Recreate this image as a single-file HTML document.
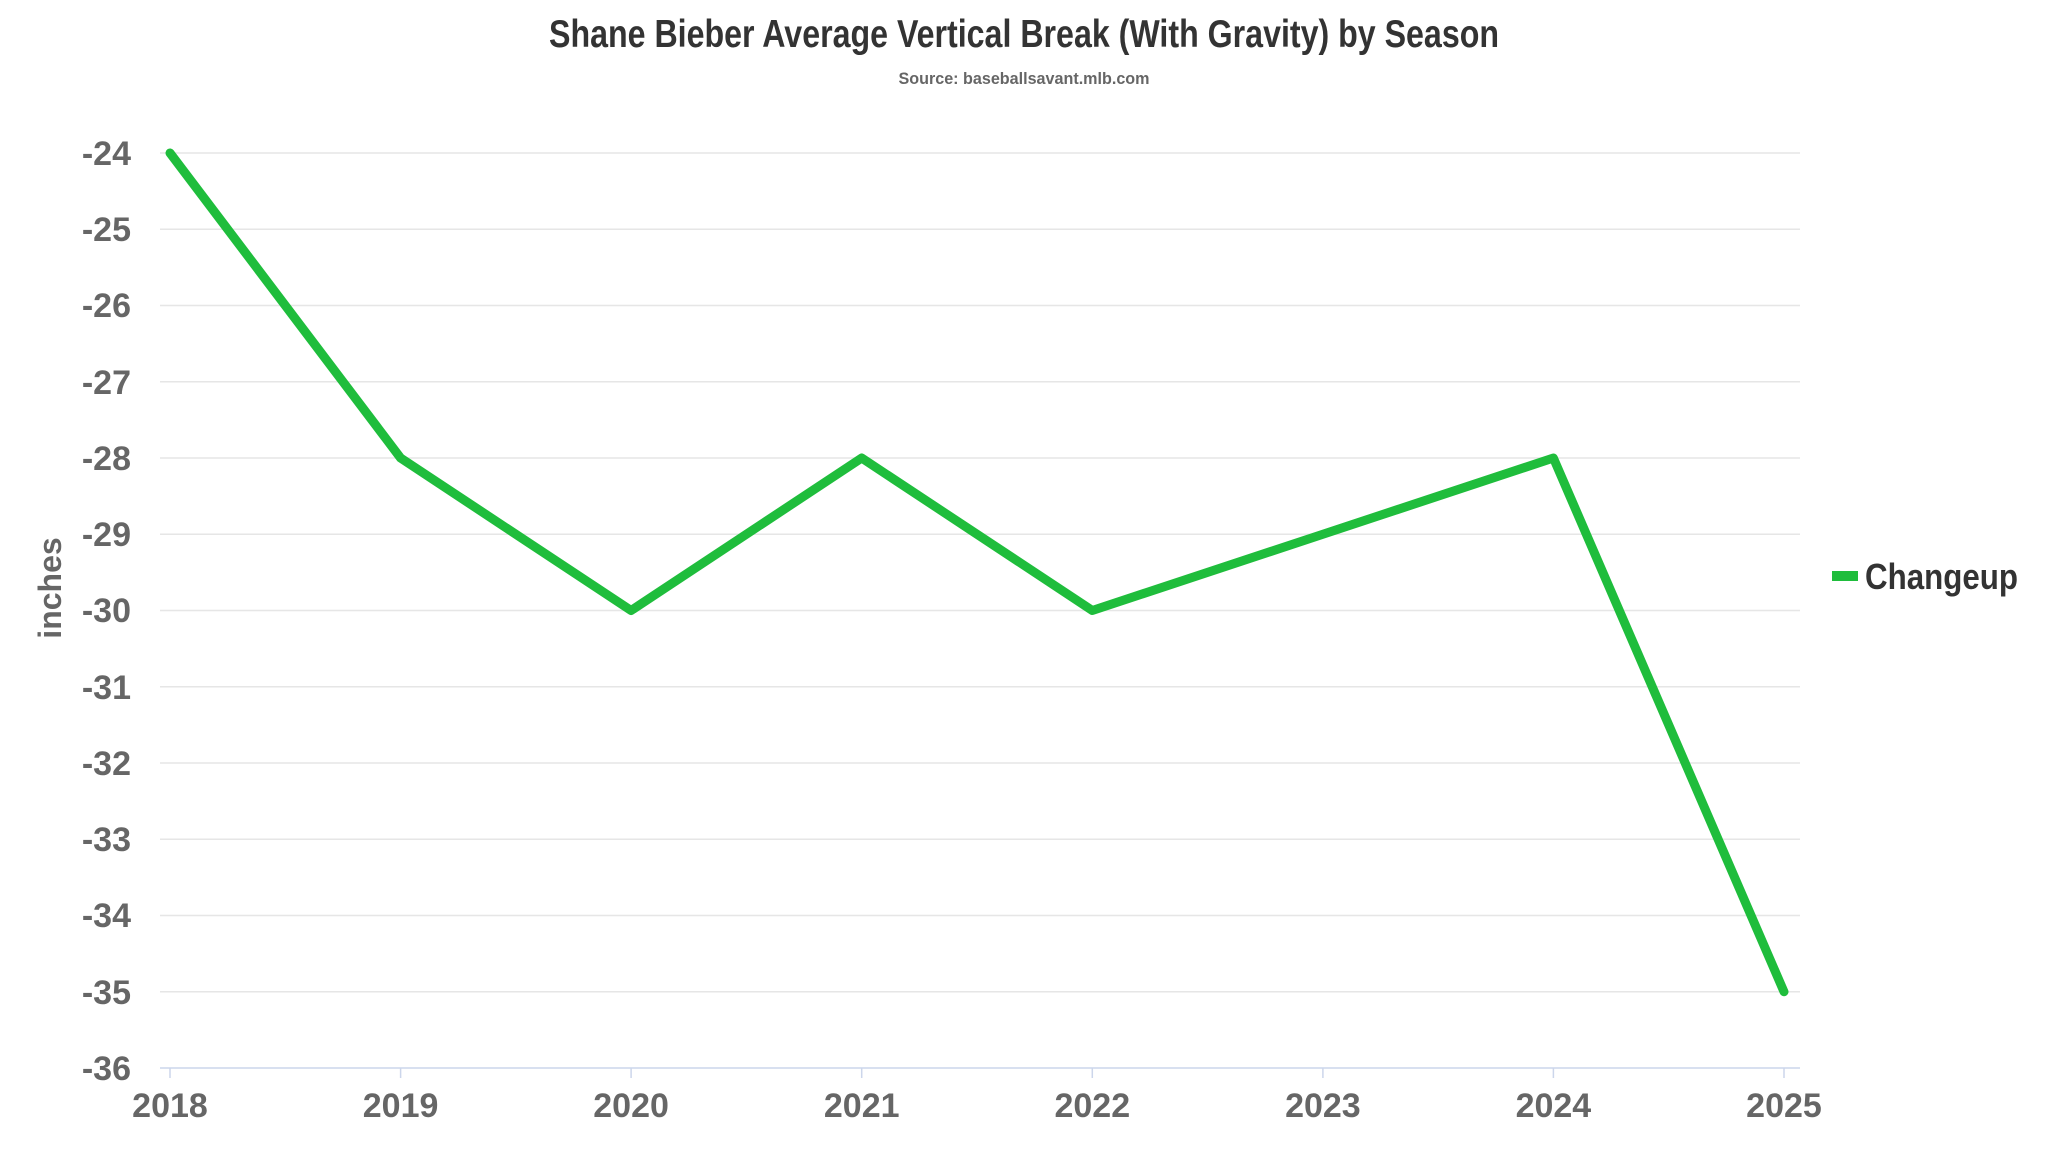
<!DOCTYPE html>
<html><head><style>
html,body{margin:0;padding:0;background:#fff;}
svg text{font-family:"Liberation Sans Narrow","Liberation Sans",sans-serif;font-weight:bold;}
</style></head><body>
<svg width="2048" height="1152" xmlns="http://www.w3.org/2000/svg">
<rect width="2048" height="1152" fill="#fff"/>
<text x="1024" y="47" text-anchor="middle" font-size="39" fill="#333" textLength="950" lengthAdjust="spacingAndGlyphs">Shane Bieber Average Vertical Break (With Gravity) by Season</text>
<text x="1024" y="84" text-anchor="middle" font-size="17" fill="#666" textLength="251" lengthAdjust="spacingAndGlyphs">Source: baseballsavant.mlb.com</text>
<g stroke="#e6e6e6" stroke-width="1.5">
<line x1="160" x2="1800" y1="153" y2="153"/>
<line x1="160" x2="1800" y1="229.25" y2="229.25"/>
<line x1="160" x2="1800" y1="305.5" y2="305.5"/>
<line x1="160" x2="1800" y1="381.75" y2="381.75"/>
<line x1="160" x2="1800" y1="458" y2="458"/>
<line x1="160" x2="1800" y1="534.25" y2="534.25"/>
<line x1="160" x2="1800" y1="610.5" y2="610.5"/>
<line x1="160" x2="1800" y1="686.75" y2="686.75"/>
<line x1="160" x2="1800" y1="763" y2="763"/>
<line x1="160" x2="1800" y1="839.25" y2="839.25"/>
<line x1="160" x2="1800" y1="915.5" y2="915.5"/>
<line x1="160" x2="1800" y1="991.75" y2="991.75"/>
</g>
<line x1="160" x2="1800" y1="1068" y2="1068" stroke="#ccd6eb" stroke-width="1.5"/>
<g stroke="#ccd6eb" stroke-width="1.5">
<line x1="170" x2="170" y1="1068" y2="1078"/><line x1="400.6" x2="400.6" y1="1068" y2="1078"/>
<line x1="631.1" x2="631.1" y1="1068" y2="1078"/><line x1="861.7" x2="861.7" y1="1068" y2="1078"/>
<line x1="1092.3" x2="1092.3" y1="1068" y2="1078"/><line x1="1322.9" x2="1322.9" y1="1068" y2="1078"/>
<line x1="1553.4" x2="1553.4" y1="1068" y2="1078"/><line x1="1784" x2="1784" y1="1068" y2="1078"/>
</g>
<g font-size="34" fill="#666" text-anchor="end">
<text x="131" y="165">-24</text><text x="131" y="241">-25</text><text x="131" y="317">-26</text>
<text x="131" y="394">-27</text><text x="131" y="470">-28</text><text x="131" y="546">-29</text>
<text x="131" y="622">-30</text><text x="131" y="699">-31</text><text x="131" y="775">-32</text>
<text x="131" y="851">-33</text><text x="131" y="927">-34</text><text x="131" y="1004">-35</text>
<text x="131" y="1080">-36</text>
</g>
<g font-size="34" fill="#666" text-anchor="middle">
<text x="170" y="1117">2018</text><text x="400.6" y="1117">2019</text><text x="631.1" y="1117">2020</text>
<text x="861.7" y="1117">2021</text><text x="1092.3" y="1117">2022</text><text x="1322.9" y="1117">2023</text>
<text x="1553.4" y="1117">2024</text><text x="1784" y="1117">2025</text>
</g>
<text transform="translate(61,588) rotate(-90)" text-anchor="middle" font-size="32" fill="#666">inches</text>
<polyline fill="none" stroke="#1fbd3c" stroke-width="9" stroke-linejoin="round" stroke-linecap="round"
points="170,153 400.6,458 631.1,610.5 861.7,458 1092.3,610.5 1322.9,534.25 1553.4,458 1784,991.75"/>
<rect x="1832" y="571" width="26" height="10" fill="#1fbd3c"/>
<text x="1865" y="589" font-size="36" fill="#333" textLength="153" lengthAdjust="spacingAndGlyphs">Changeup</text>
</svg>
</body></html>
